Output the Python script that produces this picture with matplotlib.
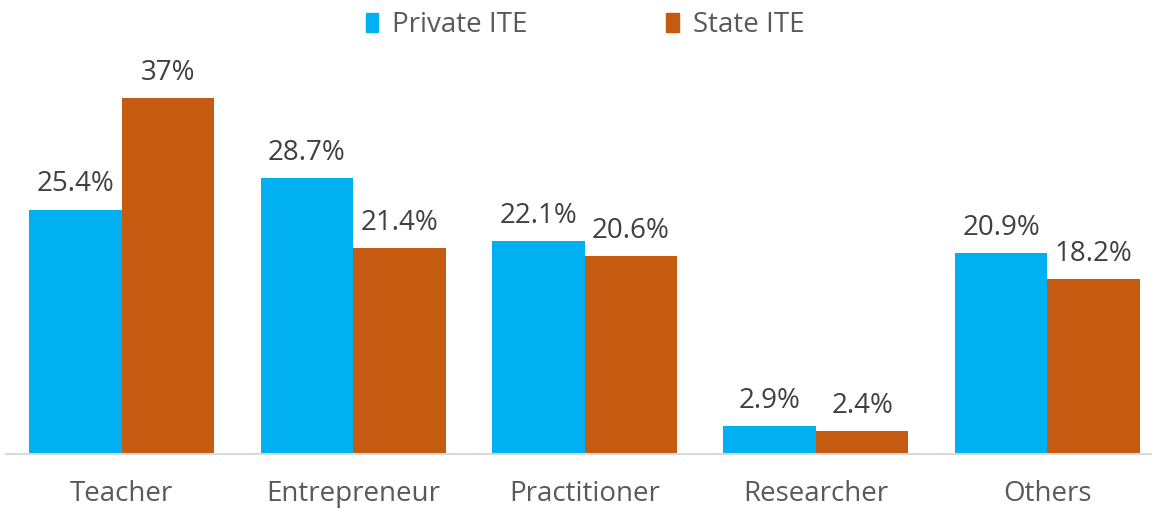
import numpy as np
import matplotlib.pyplot as plt
from matplotlib.patches import Patch

categories = ["Teacher", "Entrepreneur", "Practitioner", "Researcher", "Others"]
private_ite = [25.4, 28.7, 22.1, 2.9, 20.9]
state_ite = [37, 21.4, 20.6, 2.4, 18.2]
private_labels = ["25.4%", "28.7%", "22.1%", "2.9%", "20.9%"]
state_labels = ["37%", "21.4%", "20.6%", "2.4%", "18.2%"]

blue = "#00B0F0"
orange = "#C55A11"

plt.rcParams["font.family"] = ["Open Sans", "DejaVu Sans"]

fig = plt.figure(figsize=(11.52, 5.09), dpi=100)
W, H = 1152, 509
ax = fig.add_axes([6 / W, 55 / H, 1157 / W, 385 / H])

x = np.arange(len(categories))
w = 0.4
b1 = ax.bar(x - w / 2, private_ite, w, color=blue)
b2 = ax.bar(x + w / 2, state_ite, w, color=orange)

for bars, labels in [(b1, private_labels), (b2, state_labels)]:
    for rect, lab in zip(bars, labels):
        ax.annotate(lab, (rect.get_x() + rect.get_width() / 2, rect.get_height()),
                    xytext=(0, 8), textcoords="offset points",
                    ha="center", va="bottom", fontsize=20, color="#404040")

ax.set_xlim(-0.5, len(categories) - 0.5)
ax.set_ylim(0, 40)
ax.set_xticks(x)
ax.set_xticklabels(categories, fontsize=20, color="#595959")
ax.tick_params(axis="x", length=0, pad=19)
ax.set_yticks([])
for s in ["top", "right", "left"]:
    ax.spines[s].set_visible(False)
ax.spines["bottom"].set_color("#D9D9D9")
ax.spines["bottom"].set_linewidth(1.5)

handles = [Patch(color=blue, label="Private ITE"), Patch(color=orange, label="State ITE")]
fig.legend(handles=handles, loc="center", bbox_to_anchor=(585 / W, 1 - 25 / H), ncol=2,
           frameon=False, fontsize=20, labelcolor="#595959",
           handlelength=0.45, handleheight=0.65, handletextpad=0.5, columnspacing=5.0)

fig.savefig("out.png", dpi=100)
